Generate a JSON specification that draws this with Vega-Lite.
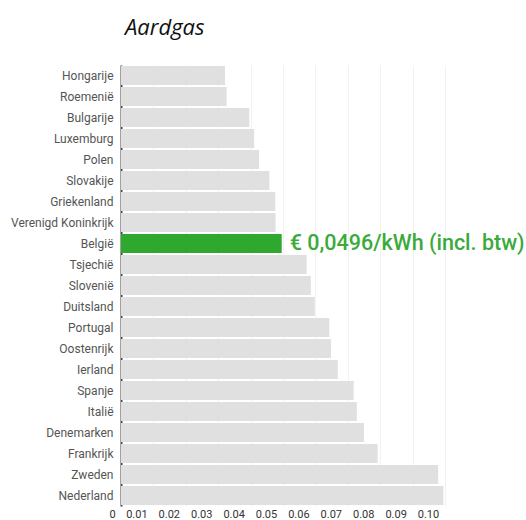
{
  "$schema": "https://vega.github.io/schema/vega-lite/v6.json",
  "autosize": {"type": "none"},
  "width": 324,
  "height": 441,
  "padding": {"left": 121, "top": 65, "right": 81, "bottom": 14},
  "background": "white",
  "title": {
    "text": "Aardgas",
    "anchor": "start",
    "frame": "group",
    "font": "Open Sans",
    "fontStyle": "italic",
    "fontWeight": "normal",
    "fontSize": 22,
    "color": "#111111",
    "dx": 4,
    "offset": 25
  },
  "config": {
    "view": {"stroke": null},
    "font": "Roboto"
  },
  "data": {
    "values": [
      {"land": "Hongarije", "prijs": 0.0321},
      {"land": "Roemenië", "prijs": 0.0326},
      {"land": "Bulgarije", "prijs": 0.0396},
      {"land": "Luxemburg", "prijs": 0.0411},
      {"land": "Polen", "prijs": 0.0426},
      {"land": "Slovakije", "prijs": 0.0458},
      {"land": "Griekenland", "prijs": 0.0476},
      {"land": "Verenigd Koninkrijk", "prijs": 0.0477},
      {"land": "België", "prijs": 0.0496, "label": "€ 0,0496/kWh (incl. btw)"},
      {"land": "Tsjechië", "prijs": 0.0573},
      {"land": "Slovenië", "prijs": 0.0586},
      {"land": "Duitsland", "prijs": 0.0598},
      {"land": "Portugal", "prijs": 0.0643},
      {"land": "Oostenrijk", "prijs": 0.0648},
      {"land": "Ierland", "prijs": 0.0669},
      {"land": "Spanje", "prijs": 0.0718},
      {"land": "Italië", "prijs": 0.0728},
      {"land": "Denemarken", "prijs": 0.0750},
      {"land": "Frankrijk", "prijs": 0.0792},
      {"land": "Zweden", "prijs": 0.0979},
      {"land": "Nederland", "prijs": 0.0995}
    ]
  },
  "encoding": {
    "y": {
      "field": "land",
      "type": "nominal",
      "sort": null,
      "scale": {"paddingInner": 0.1, "paddingOuter": 0.05},
      "axis": {
        "title": null,
        "ticks": false,
        "labelFont": "Roboto",
        "labelFontSize": 12,
        "labelColor": "#555555",
        "labelPadding": 8,
        "domainColor": "#444444",
        "domainWidth": 2,
        "grid": false
      }
    },
    "x": {
      "field": "prijs",
      "type": "quantitative",
      "scale": {"domain": [0, 0.1], "nice": false},
      "axis": {
        "title": null,
        "values": [0, 0.01, 0.02, 0.03, 0.04, 0.05, 0.06, 0.07, 0.08, 0.09, 0.1],
        "labelExpr": "datum.value == 0 ? '0' : format(datum.value, '.2f')",
        "labelOverlap": false,
        "labelFlush": false,
        "domain": false,
        "ticks": false,
        "labelFont": "Roboto",
        "labelFontSize": 11,
        "labelColor": "#333333",
        "labelPadding": 2,
        "labelOffset": {"condition": {"test": "datum.value == 0", "value": -9}, "value": -17},
        "grid": true,
        "gridColor": "#f2f2f2",
        "gridWidth": 1
      }
    }
  },
  "layer": [
    {
      "mark": {"type": "bar"},
      "encoding": {
        "color": {
          "condition": {"test": "datum.land === 'België'", "value": "#2ea82e"},
          "value": "#e0e0e0"
        }
      }
    },
    {
      "transform": [{"filter": "datum.label != null"}],
      "mark": {"type": "text", "align": "left", "baseline": "middle", "dx": 8, "font": "Roboto", "fontSize": 21.5, "fontWeight": 500, "color": "#3aab3a"},
      "encoding": {
        "text": {"field": "label"}
      }
    }
  ]
}
